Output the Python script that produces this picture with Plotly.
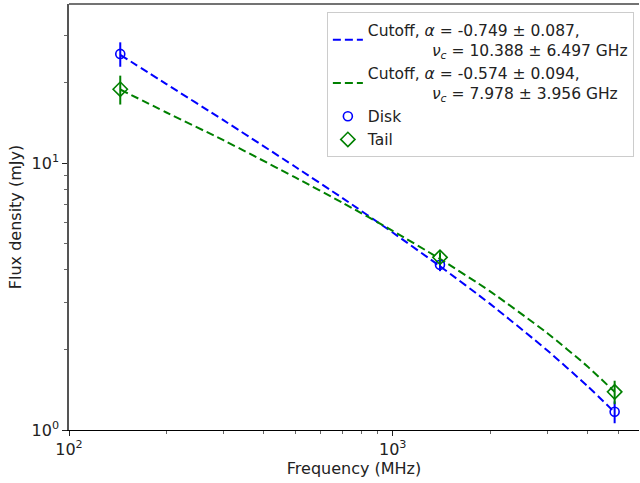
import plotly.graph_objects as go

# Measured data points (MHz, mJy)
freq = [144, 1400, 4850]
disk = [25.7, 4.16, 1.17]
disk_err = [2.7, 0.22, 0.11]
tail = [18.95, 4.44, 1.39]
tail_err = [2.35, 0.20, 0.14]

# Fitted cutoff curves
fit_freq = [144, 200, 300, 500, 700, 1000, 1400, 2000, 3000, 4000, 4850]
disk_fit = [25.5, 19.8, 14.5, 9.70, 7.40, 5.50, 4.11, 2.97, 1.99, 1.46, 1.165]
tail_fit = [18.9, 15.5, 12.2, 8.85, 7.11, 5.58, 4.38, 3.31, 2.31, 1.73, 1.39]

x_ticks = [100, 1000]
x_ticktext = ["10<sup>2</sup>", "10<sup>3</sup>"]
y_ticks = [1, 10]
y_ticktext = ["10<sup>0</sup>", "10<sup>1</sup>"]

BLUE = "#0000ff"
GREEN = "#008000"
IND = "\u00a0" * 13

fig = go.Figure()
fig.add_trace(go.Scatter(
    x=fit_freq, y=disk_fit, mode="lines",
    line=dict(color=BLUE, width=2, dash="8px,4px", shape="spline", smoothing=0.6),
    name="Cutoff, <i>α</i> = -0.749 ± 0.087,<br>" + IND + "<i>ν</i><sub><i>c</i></sub> = 10.388 ± 6.497 GHz",
))
fig.add_trace(go.Scatter(
    x=fit_freq, y=tail_fit, mode="lines",
    line=dict(color=GREEN, width=2, dash="8px,4px", shape="spline", smoothing=0.6),
    name="Cutoff, <i>α</i> = -0.574 ± 0.094,<br>" + IND + "<i>ν</i><sub><i>c</i></sub> = 7.978 ± 3.956 GHz",
))
fig.add_trace(go.Scatter(
    x=freq, y=disk, mode="markers", name="Disk",
    marker=dict(symbol="circle-open", size=9, color=BLUE, line=dict(width=1.6, color=BLUE)),
    error_y=dict(type="data", array=disk_err, color=BLUE, thickness=2, width=0),
))
fig.add_trace(go.Scatter(
    x=freq, y=tail, mode="markers", name="Tail",
    marker=dict(symbol="diamond-open", size=11, color=GREEN, line=dict(width=1.6, color=GREEN)),
    error_y=dict(type="data", array=tail_err, color=GREEN, thickness=2, width=0),
))

minor_x = [v * m for v in (100, 1000) for m in range(2, 10)]
minor_y = [v * m for v in (1, 10) for m in range(2, 10)]

fig.update_layout(
    width=640, height=483,
    margin=dict(l=69, r=1, t=4, b=53),
    paper_bgcolor="white", plot_bgcolor="white",
    font=dict(family="DejaVu Sans", size=16, color="#222"),
    showlegend=True,
    legend=dict(
        x=0.991, y=0.981, xanchor="right", yanchor="top",
        bgcolor="rgba(255,255,255,0.9)", bordercolor="#cccccc", borderwidth=1,
        font=dict(family="DejaVu Sans", size=15.5, color="#222"),
    ),
    xaxis=dict(
        type="log", range=[2, 3.761],
        tickvals=x_ticks, ticktext=x_ticktext,
        ticks="outside", ticklen=5, tickcolor="#222",
        tickfont=dict(size=16),
        showgrid=False, zeroline=False,
        showline=True, linecolor="black", linewidth=1,
        minor=dict(tickvals=minor_x, ticks="outside", ticklen=3, tickcolor="#666", showgrid=False),
        title=dict(text="Frequency (MHz)", standoff=4, font=dict(size=16)),
    ),
    yaxis=dict(
        type="log", range=[0, 1.597],
        tickvals=y_ticks, ticktext=y_ticktext,
        ticks="outside", ticklen=5, tickcolor="#222",
        tickfont=dict(size=16),
        showgrid=False, zeroline=False,
        showline=True, linecolor="#555", linewidth=1.5,
        minor=dict(tickvals=minor_y, ticks="outside", ticklen=3, tickcolor="#666", showgrid=False),
        title=dict(text="Flux density (mJy)", standoff=6, font=dict(size=16)),
    ),
    shapes=[dict(type="line", xref="paper", yref="paper", x0=0, x1=1, y0=1, y1=1,
                 line=dict(color="#444", width=1.5))],
)

fig.write_html("out.html")
